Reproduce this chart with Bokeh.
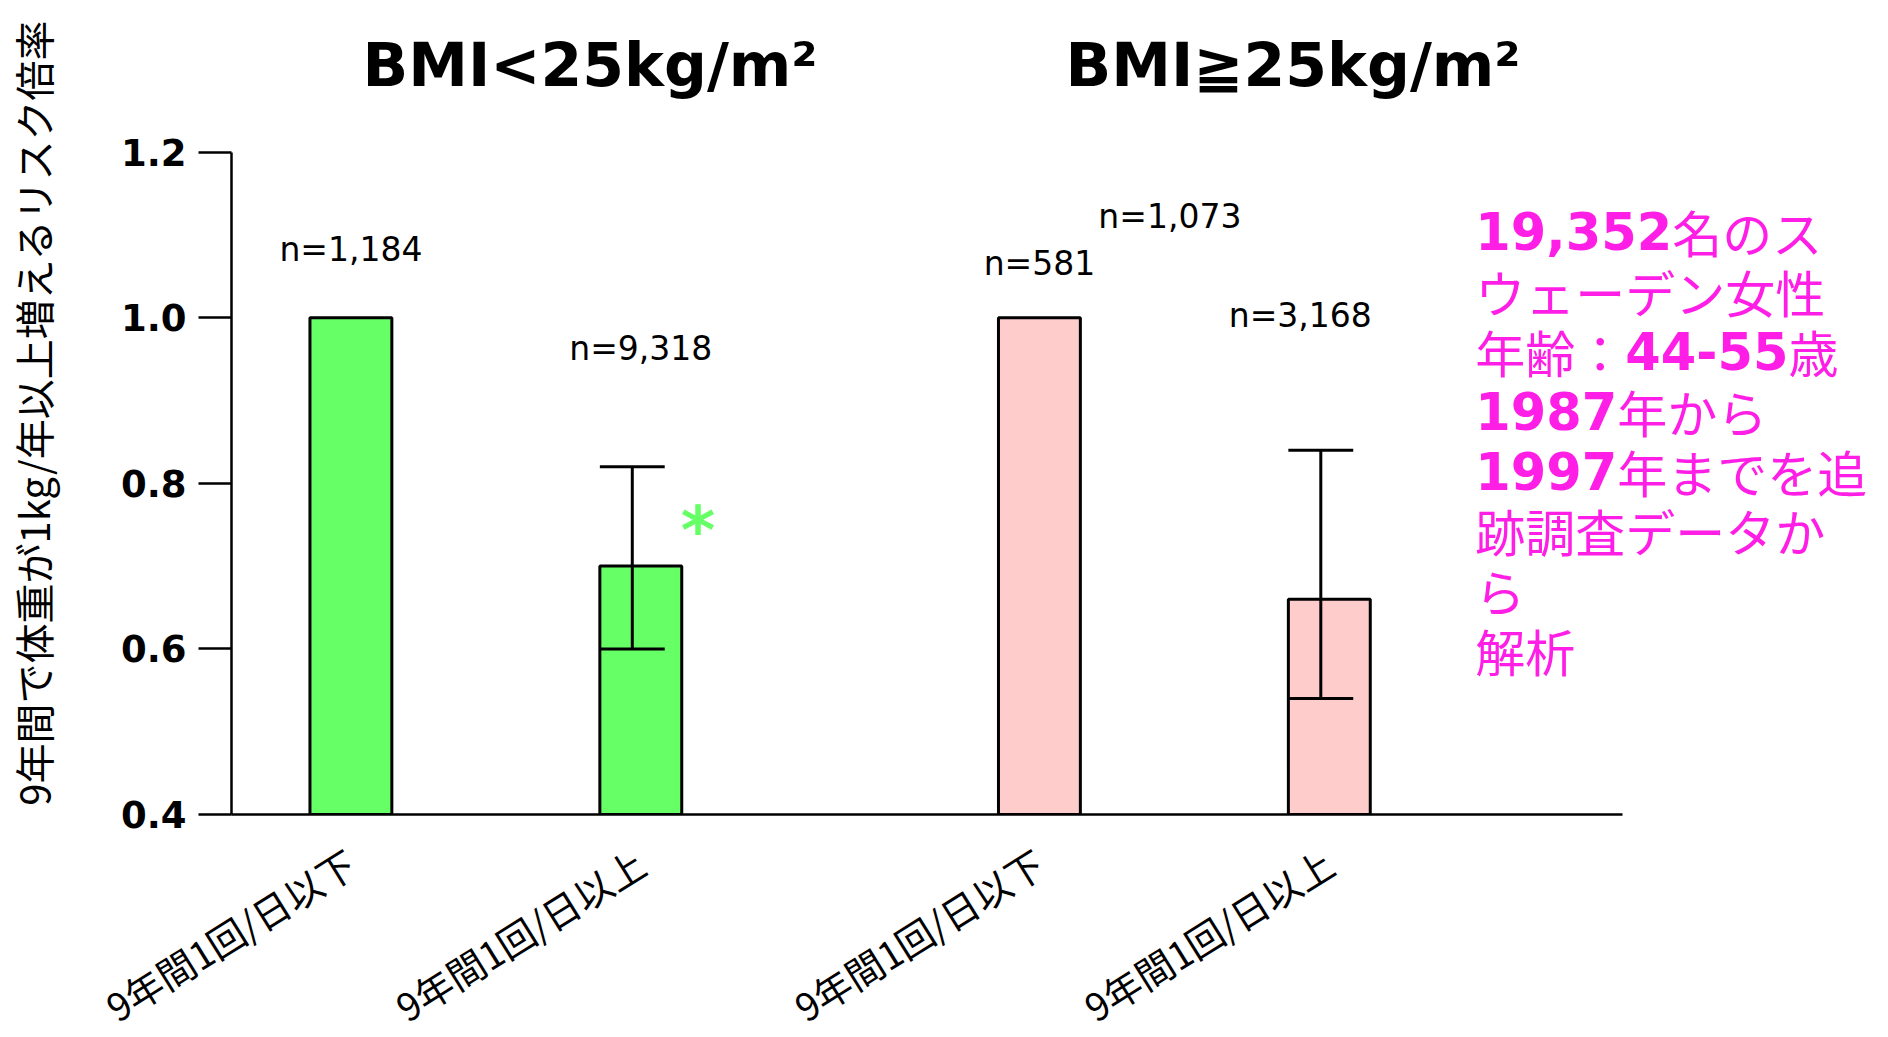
import math
import numpy as np
from bokeh.plotting import figure
from bokeh.models import Range1d, FixedTicker, PrintfTickFormatter, Label
from bokeh.embed import file_html
from bokeh.resources import INLINE

# ---------------- data ----------------
categories = ["9年間1回/日以下", "9年間1回/日以上", "9年間1回/日以下", "9年間1回/日以上"]
groups = [0, 0, 1, 1]
group_titles = ["BMI<25kg/m²", "BMI≧25kg/m²"]
risk_ratio = [1.0, 0.70, 1.0, 0.66]
ci_lower = [None, 0.60, None, 0.54]
ci_upper = [None, 0.82, None, 0.84]
bar_colors = ["#66ff66", "#66ff66", "#ffcccc", "#ffcccc"]
n_labels = ["n=1,184", "n=9,318", "n=581", "n=1,073", "n=3,168"]
n_label_bar = [0, 1, 2, 2.45, 2.9]      # bar index (fractional = between bars) each n label sits over
n_label_y = [1.082, 0.963, 1.065, 1.122, 1.003]
sig_marks = ["", "*", "", ""]
sig_y = [None, 0.755, None, None]
y_min, y_max = 0.4, 1.2
y_ticks = [0.4, 0.6, 0.8, 1.0, 1.2]
y_label = "9年間で体重が1kg/年以上増えるリスク倍率"
note_lines = [
    [("19,352", True), ("名のス", False)],
    [("ウェーデン女性", False)],
    [("年齢：", False), ("44-55", True), ("歳", False)],
    [("1987", True), ("年から", False)],
    [("1997", True), ("年までを追", False)],
    [("跡調査データか", False)],
    [("ら", False)],
    [("解析", False)],
]

# ---------------- layout helpers ----------------
SLOT = 8
GROUP_GAP = 3
x_pos = [i * SLOT + g * GROUP_GAP for i, g in enumerate(groups)]
BAR_W = 2.26
CAP_W = 1.79
err_shift = -(BAR_W - CAP_W) / 2
X_AXIS_START, X_AXIS_END = -3.295, 35.09

GREEN = "#66ff66"
MAGENTA = "#ff1ee6"

p = figure(
    frame_width=1645, frame_height=804,
    min_border_left=221, min_border_top=10, min_border_right=0, min_border_bottom=218,
    x_range=Range1d(X_AXIS_START, 42.1), y_range=Range1d(y_min, 1.3711),
    output_backend="svg", toolbar_location=None, tools="",
)
p.outline_line_color = None
p.xgrid.visible = False
p.ygrid.visible = False
p.background_fill_color = "white"
p.border_fill_color = "white"

# bars
p.vbar(x=x_pos, top=risk_ratio, bottom=y_min, width=BAR_W,
       fill_color=bar_colors, line_color="black", line_width=3)

# error bars
ex, lo, hi = [], [], []
for x, l, h in zip(x_pos, ci_lower, ci_upper):
    if l is not None:
        ex.append(x + err_shift); lo.append(l); hi.append(h)
ex = np.array(ex)
p.segment(x0=ex, y0=lo, x1=ex, y1=hi, line_color="black", line_width=3)
p.segment(x0=ex - CAP_W / 2, y0=hi, x1=ex + CAP_W / 2, y1=hi, line_color="black", line_width=3)
p.segment(x0=ex - CAP_W / 2, y0=lo, x1=ex + CAP_W / 2, y1=lo, line_color="black", line_width=3)

# significance marks
for x, m, y in zip(x_pos, sig_marks, sig_y):
    if m:
        p.add_layout(Label(x=x + 0.7 * BAR_W, y=y, text=m, text_font="DejaVu Sans",
                           text_font_style="bold", text_font_size="66px", text_color=GREEN,
                           text_align="center", text_baseline="middle", y_offset=-10))

# n labels
n_x = np.interp(n_label_bar, list(range(len(x_pos))), x_pos)
for t, x, y in zip(n_labels, n_x, n_label_y):
    p.add_layout(Label(x=x, y=y, text=t, text_font="DejaVu Sans", text_font_size="33px",
                       text_color="black", text_align="center", text_baseline="middle"))

# group titles
title_offsets = [2.6, 3.0]
for g, title in enumerate(group_titles):
    xs = [x for x, gg in zip(x_pos, groups) if gg == g]
    p.add_layout(Label(x=sum(xs) / len(xs) + title_offsets[g], y=1.305, text=title,
                       text_font="DejaVu Sans", text_font_style="bold", text_font_size="60px",
                       text_color="black", text_align="center", text_baseline="alphabetic"))

# note on the right
NOTE_X = x_pos[-1] + 4.03
NOTE_Y = 1.1043
LINE_STEP = 59.8
BOLD_SIZE = 51
CJK_SIZE = 50
bold_em = {",": 0.38, "-": 0.415}

def seg_width(text, bold):
    if bold:
        return sum(bold_em.get(c, 0.696) for c in text) * BOLD_SIZE
    return len(text) * CJK_SIZE

for i, line in enumerate(note_lines):
    off = 0.0
    for text, bold in line:
        p.add_layout(Label(
            x=NOTE_X, y=NOTE_Y, x_offset=off, y_offset=-i * LINE_STEP, text=text,
            text_font="DejaVu Sans" if bold else "Noto Sans CJK JP",
            text_font_style="bold" if bold else "normal",
            text_font_size=f"{BOLD_SIZE if bold else CJK_SIZE}px",
            text_color=MAGENTA, text_align="left", text_baseline="alphabetic"))
        off += seg_width(text, bold)

# axes
p.yaxis.bounds = (y_min, y_max)
p.yaxis.ticker = FixedTicker(ticks=y_ticks)
p.yaxis.formatter = PrintfTickFormatter(format="%.1f")
p.yaxis.major_tick_out = 33
p.yaxis.major_tick_in = 0
p.yaxis.minor_tick_line_color = None
p.yaxis.axis_line_width = 2.5
p.yaxis.major_tick_line_width = 2.5
p.yaxis.major_label_standoff = 12
p.yaxis.major_label_text_font = "DejaVu Sans"
p.yaxis.major_label_text_font_style = "bold"
p.yaxis.major_label_text_font_size = "37px"
p.yaxis.major_label_text_color = "black"
p.yaxis.axis_label = y_label
p.yaxis.axis_label_text_font = "Noto Sans CJK JP"
p.yaxis.axis_label_text_font_style = "normal"
p.yaxis.axis_label_text_font_size = "40px"
p.yaxis.axis_label_text_color = "black"
p.yaxis.axis_label_standoff = 56

p.xaxis.bounds = (X_AXIS_START, X_AXIS_END)
p.xaxis.ticker = FixedTicker(ticks=x_pos)
p.xaxis.major_label_overrides = {x: c for x, c in zip(x_pos, categories)}
p.xaxis.major_tick_line_color = None
p.xaxis.minor_tick_line_color = None
p.xaxis.axis_line_width = 2.5
p.xaxis.major_label_orientation = math.radians(32)
p.xaxis.major_label_standoff = 38
p.xaxis.major_label_text_font = "Noto Sans CJK JP"
p.xaxis.major_label_text_font_size = "38px"
p.xaxis.major_label_text_color = "black"

open("out.html", "w").write(file_html(p, INLINE))
